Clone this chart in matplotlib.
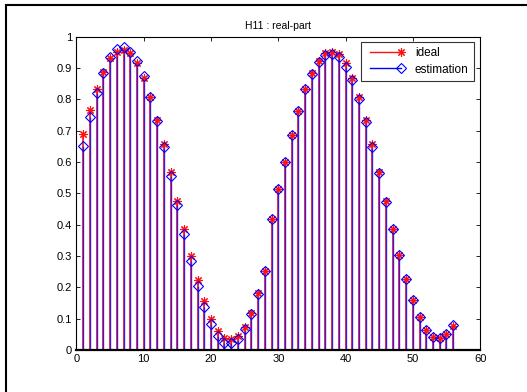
import numpy as np
import matplotlib
matplotlib.use("Agg")
import matplotlib.pyplot as plt
from matplotlib.lines import Line2D
from matplotlib.legend_handler import HandlerLine2D
from matplotlib.patches import Rectangle

plt.rcParams["font.family"] = ["Liberation Sans", "DejaVu Sans"]

# subcarrier index
idx = np.arange(1, 57)

# ideal channel (real part)
ideal = [0.689, 0.766, 0.835, 0.888, 0.931, 0.952, 0.957, 0.947, 0.917, 0.870,
         0.807, 0.736, 0.657, 0.569, 0.476, 0.385, 0.300, 0.223, 0.156, 0.099,
         0.062, 0.039, 0.035, 0.046, 0.075, 0.119, 0.181, 0.254, 0.420, 0.513,
         0.601, 0.686, 0.764, 0.833, 0.885, 0.923, 0.947, 0.952, 0.945, 0.917,
         0.870, 0.807, 0.736, 0.658, 0.569, 0.476, 0.388, 0.303, 0.226, 0.160,
         0.104, 0.064, 0.043, 0.037, 0.050, 0.078]

# estimated channel (real part)
estimation = [0.652, 0.743, 0.821, 0.886, 0.935, 0.961, 0.966, 0.952, 0.922, 0.875,
              0.809, 0.732, 0.649, 0.555, 0.463, 0.369, 0.284, 0.204, 0.138, 0.082,
              0.046, 0.023, 0.023, 0.035, 0.066, 0.115, 0.179, 0.251, 0.420, 0.513,
              0.601, 0.686, 0.764, 0.833, 0.881, 0.920, 0.942, 0.945, 0.936, 0.904,
              0.862, 0.801, 0.729, 0.649, 0.566, 0.473, 0.386, 0.303, 0.226, 0.160,
              0.104, 0.064, 0.043, 0.039, 0.052, 0.081]

xticks = [0, 10, 20, 30, 40, 50, 60]
yticks = np.round(np.arange(0, 1.01, 0.1), 1)
ytick_labels = ["0", "0.1", "0.2", "0.3", "0.4", "0.5", "0.6", "0.7", "0.8", "0.9", "1"]

star = (8, 2, 0)


class EndMarker(HandlerLine2D):
    # matlab-style legend entry: marker only at the right end of the line
    def create_artists(self, *args, **kwargs):
        arts = super().create_artists(*args, **kwargs)
        for a in arts:
            a.set_markevery([len(a.get_xdata()) - 1])
        return arts


fig = plt.figure(figsize=(5.27, 3.92), dpi=100)
ax = fig.add_axes([0.145, 0.107, 0.766, 0.799])

ax.vlines(idx, 0, ideal, color="#ff2020", linewidth=1.3)
ax.vlines(idx, 0, estimation, color="#1010ff", linewidth=1.0, alpha=0.8)
ax.plot(idx, ideal, linestyle="none", marker=star, markersize=6,
        markeredgecolor="#ff1010", markeredgewidth=0.8, color="#ff1010")
ax.plot(idx, estimation, linestyle="none", marker="D", markersize=4.8,
        markerfacecolor="none", markeredgecolor="#0000ff", markeredgewidth=0.8)

ax.set_xlim(0, 60)
ax.set_ylim(0, 1)
ax.set_xticks(xticks)
ax.set_yticks(yticks)
ax.set_yticklabels(ytick_labels)
ax.tick_params(direction="in", length=3, width=0.6, labelsize=8,
               top=True, right=True, pad=3)
for sp in ax.spines.values():
    sp.set_linewidth(0.8)
ax.spines["bottom"].set_linewidth(1.6)

ax.set_title("H11 : real-part", fontsize=7.5, pad=6)

handles = [
    Line2D([0, 1], [0, 0], color="#ff1010", linewidth=1.0, marker=star,
           markersize=6, markeredgecolor="#ff1010", markeredgewidth=0.8),
    Line2D([0, 1], [0, 0], color="#0000ff", linewidth=1.0, marker="D",
           markersize=4.8, markerfacecolor="none", markeredgecolor="#0000ff",
           markeredgewidth=0.8),
]
leg = ax.legend(handles, ["ideal", "estimation"], loc="upper right",
                bbox_to_anchor=(0.985, 0.983), fontsize=8.5, numpoints=2,
                handlelength=3.2, frameon=True, fancybox=False,
                borderpad=0.45, labelspacing=0.35, handletextpad=0.9,
                borderaxespad=0.0, handler_map={Line2D: EndMarker()})
leg.get_frame().set_edgecolor("black")
leg.get_frame().set_linewidth(0.8)

# outer frame of the figure window
fig.patches.append(Rectangle((6 / 527, -0.1), 1.2, (392 - 5) / 392 + 0.1,
                             transform=fig.transFigure, fill=False,
                             edgecolor="black", linewidth=1.5))

fig.savefig("out.png", dpi=100)
